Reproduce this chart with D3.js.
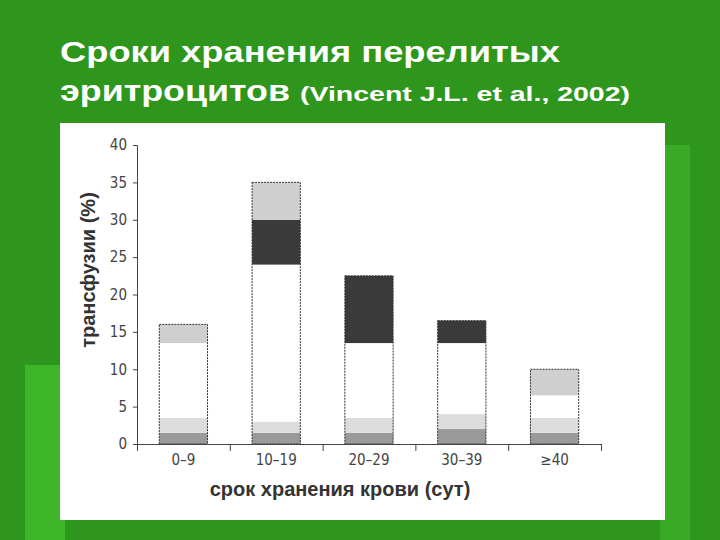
<!DOCTYPE html>
<html><head><meta charset="utf-8">
<script src="https://cdn.jsdelivr.net/npm/d3@7.9.0/dist/d3.min.js"></script>
<style>body{margin:0;background:#2e961c;}svg{display:block}</style>
</head><body>
<script>
"use strict";

const categories = ["0–9", "10–19", "20–29", "30–39", "≥40"];
// stacked layers (% of transfusions), bottom to top
const layerKeys = ["base", "light", "white", "dark", "top"];
const base = [1.5, 1.5, 1.5, 2, 1.5];
const light = [2, 1.5, 2, 2, 2];
const white = [10, 21, 10, 9.5, 3];
const dark = [0, 6, 9, 3, 0];
const top_ = [2.5, 5, 0, 0, 3.5];
const yTicks = [0, 5, 10, 15, 20, 25, 30, 35, 40];

const FILL = { base: "#9a9a9a", light: "#dcdcdc", white: "#ffffff", dark: "#3a3a3a", top: "#cfcfcf" };

const rows = categories.map((c, i) => ({ cat: c, base: base[i], light: light[i], white: white[i], dark: dark[i], top: top_[i] }));
const series = d3.stack().keys(layerKeys)(rows);

const svg = d3.select("body").append("svg").attr("width", 720).attr("height", 540);

// slide decoration
svg.append("rect").attr("x", 25).attr("y", 365).attr("width", 40).attr("height", 175).attr("fill", "#3fb52a");
svg.append("rect").attr("x", 660).attr("y", 145).attr("width", 30).attr("height", 395).attr("fill", "#3aaa26");

// title (wide glyphs as in the slide)
const title = svg.append("g").attr("fill", "#fff").attr("font-family", "Liberation Sans, Arial, sans-serif").attr("font-weight", "bold");
title.append("text").attr("x", 60).attr("y", 62).attr("font-size", 29)
  .attr("textLength", 500).attr("lengthAdjust", "spacingAndGlyphs").text("Сроки хранения перелитых");
title.append("text").attr("x", 60).attr("y", 101).attr("font-size", 29)
  .attr("textLength", 230).attr("lengthAdjust", "spacingAndGlyphs").text("эритроцитов");
title.append("text").attr("x", 300).attr("y", 101).attr("font-size", 20)
  .attr("textLength", 330).attr("lengthAdjust", "spacingAndGlyphs").text("(Vincent J.L. et al., 2002)");

// chart image area
svg.append("rect").attr("x", 60).attr("y", 123).attr("width", 605).attr("height", 397).attr("fill", "#fff");

const x = d3.scaleBand().domain(categories).range([137, 601]).paddingInner(0.48).paddingOuter(0.24);
const xb = d3.scaleLinear().domain([0, categories.length]).range([137, 601]);
const y = d3.scaleLinear().domain([0, 40]).range([444, 145]);

const g = svg.append("g");
g.selectAll("g.layer").data(series).join("g")
  .attr("fill", d => FILL[d.key])
  .selectAll("rect").data(d => d).join("rect")
  .attr("x", d => x(d.data.cat))
  .attr("width", x.bandwidth())
  .attr("y", d => y(d[1]))
  .attr("height", d => y(d[0]) - y(d[1]));

// bar outlines
g.selectAll("rect.outline").data(series[series.length - 1]).join("rect")
  .attr("class", "outline")
  .attr("x", d => x(d.data.cat))
  .attr("width", x.bandwidth())
  .attr("y", d => y(d[1]))
  .attr("height", d => y(0) - y(d[1]))
  .attr("fill", "none").attr("stroke", "#333").attr("stroke-width", 1).attr("stroke-dasharray", "2,1");

const tickFont = "DejaVu Sans Condensed, Liberation Sans Narrow, sans-serif";
const ya = svg.append("g").attr("transform", "translate(137,0)")
  .call(d3.axisLeft(y).tickValues(yTicks).tickSize(4).tickPadding(6));
ya.selectAll("text").attr("font-family", tickFont).attr("font-size", 15).attr("fill", "#444");
ya.selectAll("line,path").attr("stroke", "#444");

const xa = svg.append("g").attr("transform", "translate(0,444)")
  .call(d3.axisBottom(xb).tickValues(d3.range(0, categories.length + 1)).tickSize(7).tickFormat(""));
xa.selectAll("line,path").attr("stroke", "#444");
svg.append("g").attr("transform", "translate(0,444)")
  .call(d3.axisBottom(x).tickSize(0).tickPadding(10))
  .call(s => s.select(".domain").remove())
  .selectAll("text").attr("font-family", tickFont).attr("font-size", 15).attr("fill", "#444");

svg.append("text").attr("x", 340).attr("y", 496).attr("text-anchor", "middle")
  .attr("font-family", "Liberation Sans, Arial, sans-serif").attr("font-weight", "bold").attr("font-size", 20).attr("fill", "#333")
  .text("срок хранения крови (сут)");
svg.append("text").attr("transform", "translate(95,270) rotate(-90)").attr("text-anchor", "middle")
  .attr("font-family", "Liberation Sans, Arial, sans-serif").attr("font-weight", "bold").attr("font-size", 20).attr("fill", "#333")
  .text("трансфузии (%)");
</script>
</body></html>
